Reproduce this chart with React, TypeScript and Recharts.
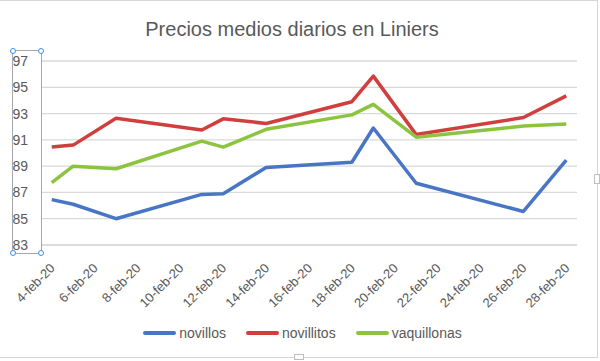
import { LineChart, Line, XAxis, YAxis, CartesianGrid, Legend } from "recharts";

// trading days of February 2020 (day of month)
const days = [4, 5, 7, 11, 12, 14, 18, 19, 21, 26, 28];
const novillos = [86.45, 86.1, 85.0, 86.85, 86.9, 88.9, 89.3, 91.9, 87.7, 85.55, 89.45];
const novillitos = [90.45, 90.6, 92.65, 91.75, 92.6, 92.25, 93.9, 95.85, 91.4, 92.7, 94.35];
const vaquillonas = [87.75, 89.0, 88.8, 90.9, 90.45, 91.8, 92.9, 93.7, 91.2, 92.05, 92.2];

const xTicks = [4, 6, 8, 10, 12, 14, 16, 18, 20, 22, 24, 26, 28];
const yTicks = [83, 85, 87, 89, 91, 93, 95, 97];

const series = [
  { key: "novillos", color: "#4876c4" },
  { key: "novillitos", color: "#d03e3e" },
  { key: "vaquillonas", color: "#8cc43f" },
];

const data = days.map((d, i) => ({
  day: d,
  novillos: novillos[i],
  novillitos: novillitos[i],
  vaquillonas: vaquillonas[i],
}));

const FONT = '"Liberation Sans", Arial, sans-serif';
const GRAY = "#595959";

function DateTick(props: any) {
  const { x, y, payload } = props;
  return (
    <g transform={`translate(${x + 4},${y + 22})`}>
      <text textAnchor="end" transform="rotate(-45)" fontSize={13} fill={GRAY} fontFamily={FONT}>
        {`${payload.value}-feb-20`}
      </text>
    </g>
  );
}

function LegendBox() {
  return (
    <div style={{ display: "flex", justifyContent: "center", alignItems: "center", paddingTop: 8, paddingLeft: 28, fontFamily: FONT }}>
      {series.map((s, i) => (
        <div key={s.key} style={{ display: "flex", alignItems: "center", marginLeft: i ? 20 : 0 }}>
          <div style={{ width: 33, height: 4, borderRadius: 2, background: s.color, marginRight: 3 }} />
          <span style={{ fontSize: 14, color: GRAY }}>{s.key}</span>
        </div>
      ))}
    </div>
  );
}

const handle = (left: number, top: number) => (
  <div
    style={{
      position: "absolute", left: left - 3, top: top - 3, width: 4, height: 4,
      borderRadius: "50%", border: "1.5px solid #3b8fe8", background: "#fff",
    }}
  />
);

export default function App() {
  return (
    <div style={{ position: "absolute", left: 0, top: 0, width: 600, height: 361, background: "#fff", overflow: "hidden" }}>
      <div
        style={{
          position: "absolute", left: -2, top: 0, width: 598, height: 356,
          border: "1.5px solid #d6d6d6",
        }}
      />
      <div
        style={{
          position: "absolute", left: 0, top: 17, width: 584, textAlign: "center",
          fontFamily: FONT, fontSize: 20, color: GRAY, lineHeight: "24px",
        }}
      >
        Precios medios diarios en Liniers
      </div>
      <LineChart width={600} height={361} data={data} margin={{ top: 61, right: 23, left: 0, bottom: 0 }}>
        <CartesianGrid vertical={false} stroke="#d9d9d9" strokeWidth={1.3} />
        <XAxis
          dataKey="day"
          type="number"
          domain={[3.5, 28.5]}
          ticks={xTicks}
          interval={0}
          height={72}
          tickSize={0}
          tickLine={false}
          axisLine={{ stroke: "#d9d9d9", strokeWidth: 1.3 }}
          tick={<DateTick />}
        />
        <YAxis
          domain={[83, 97]}
          ticks={yTicks}
          width={41}
          tickSize={0}
          tickMargin={13}
          tickLine={false}
          axisLine={false}
          tick={{ fontSize: 14, fill: GRAY, fontFamily: FONT }}
        />
        <Legend verticalAlign="bottom" height={44} content={<LegendBox />} />
        {series.map((s) => (
          <Line
            key={s.key}
            dataKey={s.key}
            stroke={s.color}
            strokeWidth={3.5}
            strokeLinejoin="round"
            dot={false}
            activeDot={false}
            isAnimationActive={false}
          />
        ))}
      </LineChart>
      {/* selected axis box */}
      <div style={{ position: "absolute", left: 12, top: 50, width: 28, height: 202, border: "1px solid #a8a8a8" }} />
      {handle(12.5, 50.5)}
      {handle(41, 50.5)}
      {handle(12.5, 253)}
      {handle(41, 253)}
      <div style={{ position: "absolute", left: 594, top: 174, width: 4, height: 8, border: "1px solid #bdbdbd", background: "#fff" }} />
      <div style={{ position: "absolute", left: 294, top: 354, width: 8, height: 4, border: "1px solid #bdbdbd", background: "#fff" }} />
    </div>
  );
}
